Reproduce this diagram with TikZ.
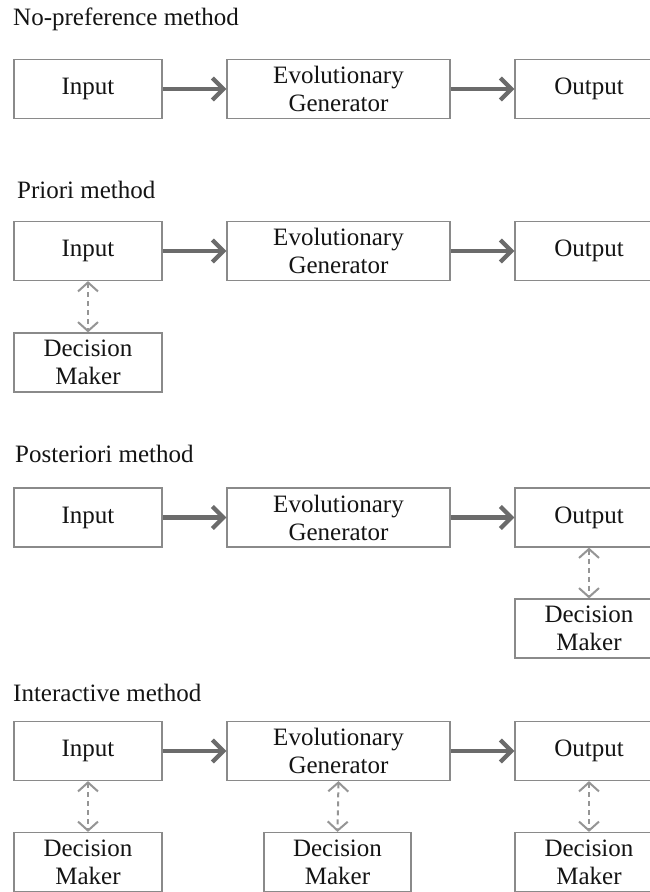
\documentclass[tikz,border=0pt]{standalone}
\usepackage{fontspec}
\setmainfont{Liberation Serif}
\usetikzlibrary{arrows.meta}
\definecolor{boxgray}{HTML}{8A8A8A}
\definecolor{flowgray}{HTML}{6B6B6B}
\definecolor{linkgray}{HTML}{959595}
\definecolor{inkblack}{HTML}{141414}
\tikzset{
  blk/.style={draw=boxgray, line width=1.2pt, fill=white, inner sep=0pt,
    minimum width=148pt, minimum height=59pt, align=center,
    text=inkblack, font=\fontsize{25}{28}\selectfont},
  genbox/.style={blk, minimum width=223pt},
  headline/.style={anchor=base west, inner sep=0pt, text=inkblack,
    font=\fontsize{25}{28}\selectfont},
  flow/.style={draw=flowgray, line width=4.2pt,
    -{Straight Barb[length=11pt, width=22pt, line width=4.2pt]}},
  dmlink/.style={draw=linkgray, line width=2pt, dash pattern=on 5pt off 4pt,
    {Straight Barb[length=9pt, width=20pt, line width=2pt]}-{Straight Barb[length=9pt, width=20pt, line width=2pt]}}
}
\begin{document}
\begin{tikzpicture}[x=1pt, y=-1pt]
\useasboundingbox (0,0) rectangle (650,892);
\fill[white] (0,0) rectangle (650,892);
\clip (0,0) rectangle (650,892);

% No-preference method
\node[headline] (t1) at (13,25) {No-preference method};
\node[blk]    (in1)  at (88,89)    {Input};
\node[genbox] (gen1) at (338.5,89) {Evolutionary\\Generator};
\node[blk]    (out1) at (589,89)   {Output};
\draw[flow] (in1) -- (gen1);
\draw[flow] (gen1) -- (out1);

% Priori method
\node[headline] (t2) at (17,198) {Priori method};
\node[blk]    (in2)  at (88,251)    {Input};
\node[genbox] (gen2) at (338.5,251) {Evolutionary\\Generator};
\node[blk]    (out2) at (589,251)   {Output};
\node[blk]    (dm2)  at (88,362.5)  {Decision\\Maker};
\draw[flow] (in2) -- (gen2);
\draw[flow] (gen2) -- (out2);
\draw[dmlink] (in2.south) -- (dm2.north);

% Posteriori method
\node[headline] (t3) at (15,462) {Posteriori method};
\node[blk]    (in3)  at (88,517.5)    {Input};
\node[genbox] (gen3) at (338.5,517.5) {Evolutionary\\Generator};
\node[blk]    (out3) at (589,517.5)   {Output};
\node[blk]    (dm3)  at (589,628.5)   {Decision\\Maker};
\draw[flow] (in3) -- (gen3);
\draw[flow] (gen3) -- (out3);
\draw[dmlink] (out3.south) -- (dm3.north);

% Interactive method
\node[headline] (t4) at (13,701) {Interactive method};
\node[blk]    (in4)  at (88,751)    {Input};
\node[genbox] (gen4) at (338.5,751) {Evolutionary\\Generator};
\node[blk]    (out4) at (589,751)   {Output};
\node[blk]    (dm4a) at (88,862)    {Decision\\Maker};
\node[blk, minimum width=147pt] (dm4b) at (337.5,862) {Decision\\Maker};
\node[blk]    (dm4c) at (589,862)   {Decision\\Maker};
\draw[flow] (in4) -- (gen4);
\draw[flow] (gen4) -- (out4);
\draw[dmlink] (in4.south) -- (dm4a.north);
\draw[dmlink] (gen4.south) -- (dm4b.north);
\draw[dmlink] (out4.south) -- (dm4c.north);
\end{tikzpicture}
\end{document}
